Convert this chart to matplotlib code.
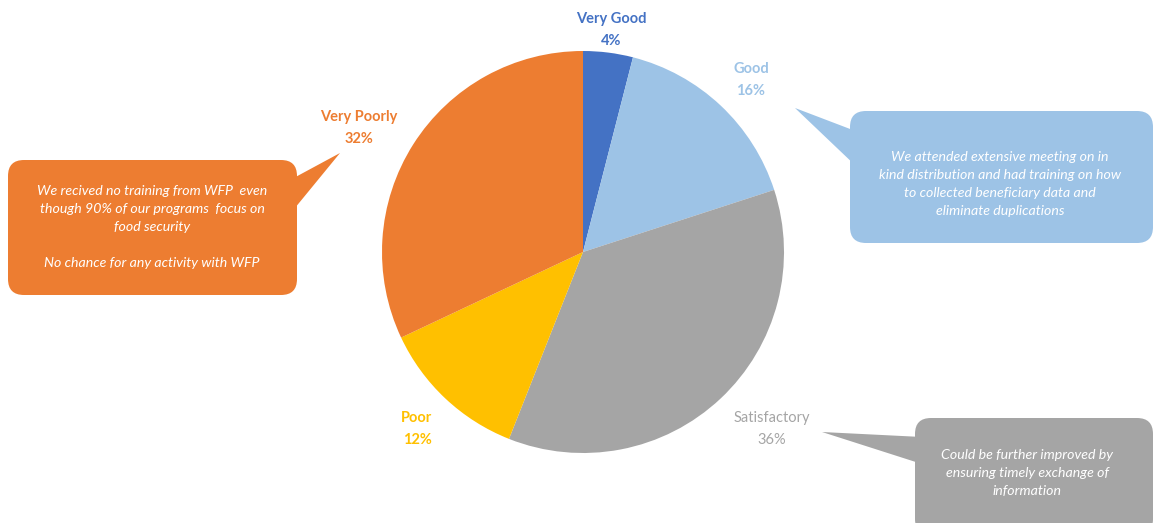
import numpy as np
import matplotlib.pyplot as plt
from matplotlib.patches import FancyBboxPatch, Polygon

# ratings, clockwise from 12 o'clock
categories = ['Very Good', 'Good', 'Satisfactory', 'Poor', 'Very Poorly']
shares = [4, 16, 36, 12, 32]
colors = ['#4472C4', '#9DC3E6', '#A5A5A5', '#FFC000', '#ED7D31']
label_weights = ['bold', 'bold', 'normal', 'bold', 'bold']

comments = {
    'Very Poorly': 'We recived no training from WFP  even\nthough 90% of our programs  focus on\n'
                   'food security\n\nNo chance for any activity with WFP',
    'Good': 'We attended extensive meeting on in\nkind distribution and had training on how\n'
            'to collected beneficiary data and\neliminate duplications',
    'Satisfactory': 'Could be further improved by\nensuring timely exchange of\ninformation',
}

W, H = 1154, 523
fig = plt.figure(figsize=(W / 100, H / 100), dpi=100)
ax = fig.add_axes([0, 0, 1, 1])

# pie in pixel coordinates (y grows downward, so flip orientation)
cx, cy, r = 583, 252, 201
wedges, _ = ax.pie(shares, colors=colors, startangle=-90, counterclock=True,
                   center=(cx, cy), radius=r, frame=True,
                   wedgeprops=dict(linewidth=0))
ax.set_xlim(0, W)
ax.set_ylim(H, 0)
ax.set_aspect('equal')
ax.axis('off')

label_pos = {
    'Very Good': (611, 30),
    'Good': (751, 80),
    'Satisfactory': (772, 429),
    'Poor': (417, 429),
    'Very Poorly': (359, 128),
}
label_font = ['Lato', 'DejaVu Sans']
for name, val, col, wt in zip(categories, shares, colors, label_weights):
    x, y = label_pos[name]
    ax.text(x, y, f'{name}\n{val}%', color=col, ha='center', va='center',
            fontsize=10.5, fontweight=wt, family=label_font, linespacing=1.75)


def callout(x0, y0, x1, y1, tri, color, text, tx, ty):
    box = FancyBboxPatch((x0, y0), x1 - x0, y1 - y0,
                         boxstyle='round,pad=0,rounding_size=16',
                         facecolor=color, edgecolor='none', zorder=3)
    ax.add_patch(box)
    ax.add_patch(Polygon(tri, closed=True, facecolor=color,
                         edgecolor='none', zorder=3))
    ax.text(tx, ty, text, color='white', ha='center', va='center',
            fontsize=10.2, style='italic', family=label_font,
            linespacing=1.6, zorder=4)


callout(8, 160, 297, 295,
        [(290, 180), (340, 153), (290, 214)],
        '#ED7D31', comments['Very Poorly'], 152, 227)
callout(850, 111, 1153, 243,
        [(858, 132), (795, 108), (858, 168)],
        '#9DC3E6', comments['Good'], 1000, 184)
callout(915, 418, 1153, 535,
        [(922, 437), (822, 432), (922, 464)],
        '#A5A5A5', comments['Satisfactory'], 1027, 473)

fig.savefig('out.png', dpi=100)
